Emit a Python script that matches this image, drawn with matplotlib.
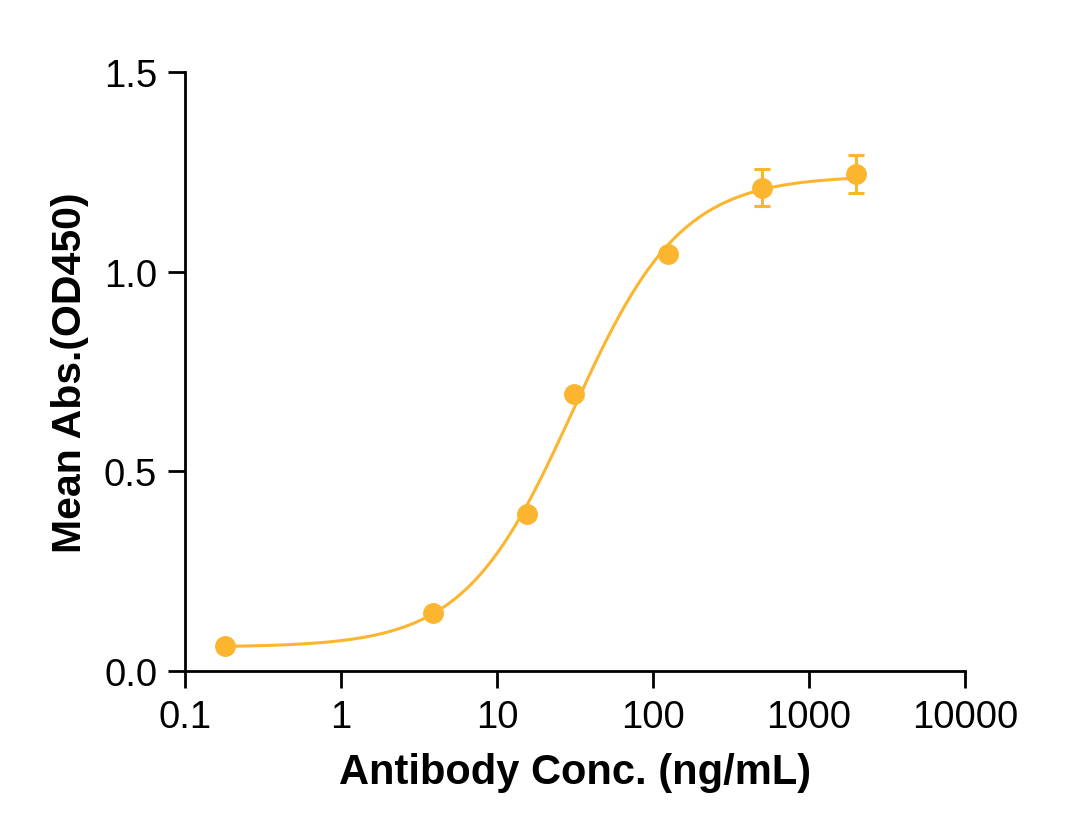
import numpy as np
import matplotlib
matplotlib.use('Agg')
import matplotlib.pyplot as plt

plt.rcParams['font.family'] = ['Liberation Sans', 'DejaVu Sans']

conc = [0.18, 3.9, 15.6, 31.25, 125, 500, 2000]
od = [0.062, 0.145, 0.393, 0.694, 1.043, 1.21, 1.245]
err = [0.0, 0.0, 0.0, 0.0, 0.0, 0.046, 0.048]
color = '#FBB52E'


def four_pl(x, bottom, top, ec50, hill):
    return bottom + (top - bottom) / (1 + (ec50 / x) ** hill)


# crude grid-search 4PL fit
xs = np.array(conc)
ys = np.array(od)
best = None
for b in np.linspace(0.03, 0.08, 11):
    for t in np.linspace(1.2, 1.3, 11):
        for e in np.logspace(np.log10(20), np.log10(45), 26):
            for h in np.linspace(0.9, 1.6, 29):
                r = np.sum((four_pl(xs, b, t, e, h) - ys) ** 2)
                if best is None or r < best[0]:
                    best = (r, b, t, e, h)
_, b, t, e, h = best

fig = plt.figure(figsize=(10.88, 8.37), dpi=100)
ax = fig.add_axes([0.170, 0.197, 0.717, 0.716])

xfit = np.logspace(np.log10(conc[0]), np.log10(conc[-1]), 300)
ax.plot(xfit, four_pl(xfit, b, t, e, h), color=color, lw=2.2)
ax.errorbar(conc, od, yerr=err, fmt='o', color=color, ms=14,
            capsize=6, elinewidth=2.2, capthick=2.2)

ax.set_xscale('log')
ax.set_xlim(0.1, 10000)
ax.set_ylim(0, 1.5)
ax.set_xticks([0.1, 1, 10, 100, 1000, 10000])
ax.set_xticklabels(['0.1', '1', '10', '100', '1000', '10000'])
ax.xaxis.set_minor_locator(matplotlib.ticker.NullLocator())
ax.set_yticks([0, 0.5, 1.0, 1.5])
ax.set_yticklabels(['0.0', '0.5', '1.0', '1.5'])

for s in ['top', 'right']:
    ax.spines[s].set_visible(False)
for s in ['left', 'bottom']:
    ax.spines[s].set_linewidth(2)
ax.tick_params(width=2, length=12, labelsize=27.5, pad=8)

ax.set_xlabel('Antibody Conc. (ng/mL)', fontsize=30, fontweight='bold', labelpad=12)
ax.set_ylabel('Mean Abs.(OD450)', fontsize=29.5, fontweight='bold', labelpad=11)

fig.savefig('out.png', dpi=100)
